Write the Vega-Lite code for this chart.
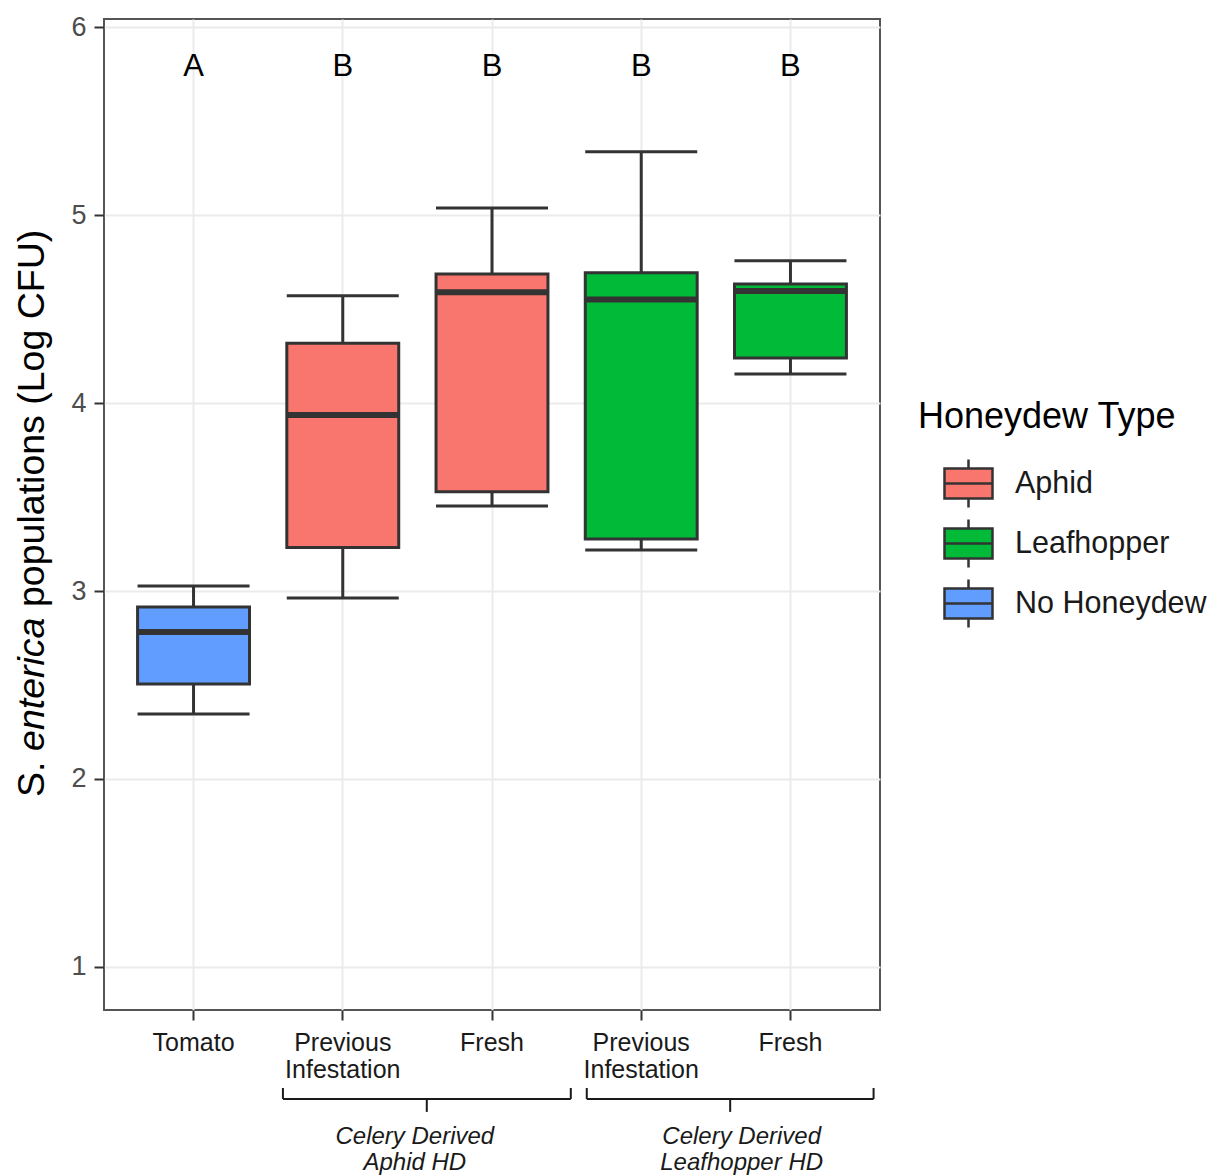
{
  "$schema": "https://vega.github.io/schema/vega-lite/v6.json",
  "autosize": "none",
  "width": 776,
  "height": 991,
  "padding": {"left": 104, "top": 19, "right": 330, "bottom": 166},
  "background": "white",
  "config": {
    "font": "Liberation Sans",
    "view": {"stroke": "#555555", "strokeWidth": 2},
    "axis": {"domain": false, "gridColor": "#EBEBEB", "tickColor": "#333333", "tickWidth": 2}
  },
  "datasets": {
    "boxes": [
      {"id": "Tomato", "type": "No Honeydew", "lower": 2.346, "q1": 2.505, "median": 2.782, "q3": 2.915, "upper": 3.027, "letter": "A"},
      {"id": "Aphid HD: Previous Infestation", "type": "Aphid", "lower": 2.963, "q1": 3.232, "median": 3.936, "q3": 4.318, "upper": 4.571, "letter": "B"},
      {"id": "Aphid HD: Fresh", "type": "Aphid", "lower": 3.452, "q1": 3.528, "median": 4.589, "q3": 4.686, "upper": 5.037, "letter": "B"},
      {"id": "Leafhopper HD: Previous Infestation", "type": "Leafhopper", "lower": 3.218, "q1": 3.277, "median": 4.551, "q3": 4.693, "upper": 5.337, "letter": "B"},
      {"id": "Leafhopper HD: Fresh", "type": "Leafhopper", "lower": 4.154, "q1": 4.239, "median": 4.596, "q3": 4.633, "upper": 4.757, "letter": "B"}
    ],
    "brackets": [
      {"x0": 0.599, "x1": 2.528, "y0": 0.298, "y1": 0.298},
      {"x0": 0.599, "x1": 0.599, "y0": 0.298, "y1": 0.356},
      {"x0": 2.528, "x1": 2.528, "y0": 0.298, "y1": 0.356},
      {"x0": 1.563, "x1": 1.563, "y0": 0.298, "y1": 0.229},
      {"x0": 2.635, "x1": 4.557, "y0": 0.298, "y1": 0.298},
      {"x0": 2.635, "x1": 2.635, "y0": 0.298, "y1": 0.356},
      {"x0": 4.557, "x1": 4.557, "y0": 0.298, "y1": 0.356},
      {"x0": 3.596, "x1": 3.596, "y0": 0.298, "y1": 0.229}
    ],
    "groups": [
      {"x": 1.483, "y": 0.094, "label": "Celery Derived\nAphid HD"},
      {"x": 3.673, "y": 0.094, "label": "Celery Derived\nLeafhopper HD"}
    ],
    "ytitle": [
      {"x": -1.076, "y": 1.904, "part": "S.", "style": "normal"},
      {"x": -1.076, "y": 2.149, "part": "enterica", "style": "italic"},
      {"x": -1.076, "y": 2.915, "part": "populations (Log CFU)", "style": "normal"}
    ]
  },
  "layer": [
    {
      "data": {"name": "boxes"},
      "encoding": {
        "x": {
          "field": "id",
          "type": "nominal",
          "sort": ["Tomato", "Aphid HD: Previous Infestation", "Aphid HD: Fresh", "Leafhopper HD: Previous Infestation", "Leafhopper HD: Fresh"],
          "scale": {"paddingInner": 0.25, "paddingOuter": 0.225},
          "axis": {
            "title": null,
            "grid": true,
            "gridWidth": 2,
            "bandPosition": 0.5,
            "tickSize": 10,
            "labelFontSize": 25,
            "labelColor": "#1A1A1A",
            "labelPadding": 10,
            "labelAngle": 0,
            "labelBaseline": "top",
            "labelLineHeight": 27,
            "labelLimit": 400,
            "labelOverlap": false,
            "labelExpr": "split(replace(replace(datum.label, 'Aphid HD: ', ''), 'Leafhopper HD: ', ''), ' ')"
          }
        }
      },
      "layer": [
        {
          "mark": {"type": "rule", "color": "#333333", "strokeWidth": 3},
          "encoding": {
            "y": {
              "field": "lower",
              "type": "quantitative",
              "scale": {"domain": [0.771, 6.043], "nice": false, "zero": false},
              "axis": {
                "title": null,
                "values": [1, 1.5, 2, 2.5, 3, 3.5, 4, 4.5, 5, 5.5, 6],
                "format": "d",
                "labelExpr": "datum.value % 1 === 0 ? datum.label : ''",
                "gridWidth": {"condition": {"test": "datum.value % 1 !== 0", "value": 1.2}, "value": 2.2},
                "tickOpacity": {"condition": {"test": "datum.value % 1 !== 0", "value": 0}, "value": 1},
                "tickSize": 10,
                "labelFontSize": 27,
                "labelColor": "#4D4D4D",
                "labelPadding": 8
              }
            },
            "y2": {"field": "upper"}
          }
        },
        {
          "mark": {"type": "bar", "stroke": "#333333", "strokeWidth": 3, "opacity": 1},
          "encoding": {
            "y": {"field": "q1", "type": "quantitative"},
            "y2": {"field": "q3"},
            "fill": {
              "field": "type",
              "type": "nominal",
              "scale": {"domain": ["Aphid", "Leafhopper", "No Honeydew"], "range": ["#F8766D", "#00BA38", "#619CFF"]},
              "legend": {
                "title": "Honeydew Type",
                "orient": "none",
                "legendX": 814,
                "legendY": 381,
                "padding": 0,
                "titleFontSize": 36,
                "titleFontWeight": "normal",
                "titleColor": "#000000",
                "titlePadding": 22,
                "titleLimit": 400,
                "labelFontSize": 30.5,
                "labelColor": "#1A1A1A",
                "labelLimit": 400,
                "labelOffset": 21,
                "symbolOffset": 25,
                "symbolType": "M-1,-0.62H1V0.62H-1Z M-1,0H1 M0,-0.62V-1 M0,0.62V1",
                "symbolSize": 2304,
                "symbolStrokeColor": "#333333",
                "symbolStrokeWidth": 2.5,
                "symbolOpacity": 1,
                "rowPadding": 1,
                "encode": {"symbols": {"update": {"stroke": {"value": "#333333"}, "strokeWidth": {"value": 2.5}, "opacity": {"value": 1}}}}
              }
            }
          }
        },
        {
          "mark": {"type": "tick", "orient": "horizontal", "size": 112, "thickness": 6, "color": "#333333", "opacity": 1},
          "encoding": {"y": {"field": "median", "type": "quantitative"}}
        },
        {
          "mark": {"type": "tick", "orient": "horizontal", "size": 112, "thickness": 3, "color": "#333333", "opacity": 1},
          "encoding": {"y": {"field": "lower", "type": "quantitative"}}
        },
        {
          "mark": {"type": "tick", "orient": "horizontal", "size": 112, "thickness": 3, "color": "#333333", "opacity": 1},
          "encoding": {"y": {"field": "upper", "type": "quantitative"}}
        },
        {
          "mark": {"type": "text", "fontSize": 31, "color": "#000000", "baseline": "middle"},
          "encoding": {"y": {"datum": 5.79, "type": "quantitative"}, "text": {"field": "letter"}}
        }
      ]
    },
    {
      "encoding": {
        "x": {"type": "quantitative", "scale": {"domain": [-0.6, 4.6], "nice": false, "zero": false}, "axis": null},
        "y": {"type": "quantitative", "scale": {"domain": [0.771, 6.043], "nice": false, "zero": false}, "axis": null}
      },
      "layer": [
        {
          "data": {"name": "brackets"},
          "mark": {"type": "rule", "color": "#1A1A1A", "strokeWidth": 2},
          "encoding": {
            "x": {"field": "x0", "type": "quantitative", "scale": {"domain": [-0.6, 4.6], "nice": false, "zero": false}, "axis": null},
            "x2": {"field": "x1"},
            "y": {"field": "y0", "type": "quantitative", "scale": {"domain": [0.771, 6.043], "nice": false, "zero": false}, "axis": null},
            "y2": {"field": "y1"}
          }
        },
        {
          "data": {"name": "groups"},
          "mark": {"type": "text", "fontSize": 24, "fontStyle": "italic", "lineBreak": "\n", "lineHeight": 26, "baseline": "middle", "color": "#1A1A1A"},
          "encoding": {
            "x": {"field": "x", "type": "quantitative", "axis": null},
            "y": {"field": "y", "type": "quantitative", "axis": null},
            "text": {"field": "label"}
          }
        },
        {
          "data": {"name": "ytitle"},
          "transform": [{"filter": "datum.style === 'normal'"}],
          "mark": {"type": "text", "fontSize": 37.5, "angle": 270, "align": "left", "baseline": "middle", "color": "#000000"},
          "encoding": {
            "x": {"field": "x", "type": "quantitative", "axis": null},
            "y": {"field": "y", "type": "quantitative", "axis": null},
            "text": {"field": "part"}
          }
        },
        {
          "data": {"name": "ytitle"},
          "transform": [{"filter": "datum.style === 'italic'"}],
          "mark": {"type": "text", "fontSize": 37.5, "fontStyle": "italic", "angle": 270, "align": "left", "baseline": "middle", "color": "#000000"},
          "encoding": {
            "x": {"field": "x", "type": "quantitative", "axis": null},
            "y": {"field": "y", "type": "quantitative", "axis": null},
            "text": {"field": "part"}
          }
        }
      ]
    }
  ],
  "resolve": {
    "scale": {"x": "independent", "y": "independent"},
    "axis": {"x": "independent", "y": "independent"}
  }
}
